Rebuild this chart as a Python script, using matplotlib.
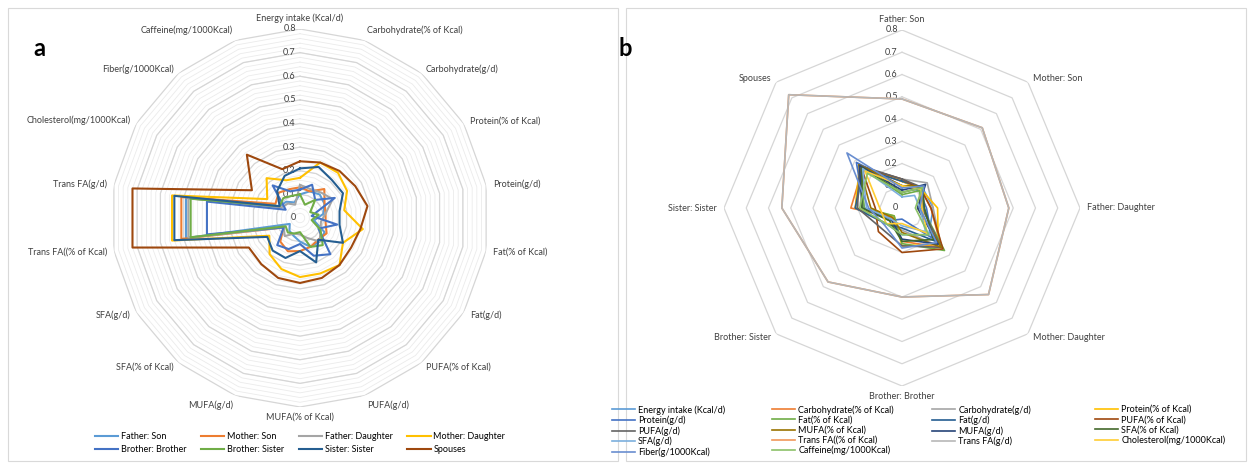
import numpy as np
import matplotlib
matplotlib.use("Agg")
import matplotlib.pyplot as plt
from matplotlib.patches import Rectangle

plt.rcParams['font.family'] = ['Lato', 'DejaVu Sans']

nutrients = ["Energy intake (Kcal/d)", "Carbohydrate(% of Kcal)", "Carbohydrate(g/d)",
             "Protein(% of Kcal)", "Protein(g/d)", "Fat(% of Kcal)", "Fat(g/d)",
             "PUFA(% of Kcal)", "PUFA(g/d)", "MUFA(% of Kcal)", "MUFA(g/d)",
             "SFA(% of Kcal)", "SFA(g/d)", "Trans FA((% of Kcal)", "Trans FA(g/d)",
             "Cholesterol(mg/1000Kcal)", "Fiber(g/1000Kcal)", "Caffeine(mg/1000Kcal)"]
pairs = ["Father: Son", "Mother: Son", "Father: Daughter", "Mother: Daughter",
         "Brother: Brother", "Brother: Sister", "Sister: Sister", "Spouses"]

# one list per relationship pair, values in nutrient order
father_son = [0.10, 0.12, 0.13, 0.12, 0.10, 0.06, 0.12, 0.13, 0.13, 0.10, 0.08, 0.07, 0.05, 0.49, 0.49, 0.10, 0.09, 0.07]
mother_son = [0.13, 0.12, 0.16, 0.12, 0.11, 0.11, 0.13, 0.12, 0.13, 0.14, 0.15, 0.13, 0.08, 0.51, 0.51, 0.12, 0.14, 0.13]
father_daughter = [0.14, 0.13, 0.14, 0.16, 0.11, 0.09, 0.10, 0.13, 0.09, 0.07, 0.07, 0.10, 0.08, 0.48, 0.48, 0.09, 0.08, 0.06]
mother_daughter = [0.17, 0.25, 0.25, 0.23, 0.19, 0.27, 0.21, 0.26, 0.25, 0.25, 0.23, 0.20, 0.15, 0.55, 0.55, 0.16, 0.22, 0.17]
brother_brother = [0.12, 0.15, 0.10, 0.17, 0.05, 0.16, 0.09, 0.20, 0.17, 0.11, 0.14, 0.15, 0.08, 0.40, 0.40, 0.07, 0.18, 0.12]
brother_sister = [0.10, 0.06, 0.10, 0.05, 0.08, 0.05, 0.10, 0.15, 0.13, 0.06, 0.07, 0.08, 0.07, 0.47, 0.47, 0.10, 0.11, 0.10]
sister_sister = [0.21, 0.23, 0.21, 0.21, 0.17, 0.17, 0.21, 0.12, 0.20, 0.14, 0.18, 0.18, 0.16, 0.54, 0.54, 0.10, 0.15, 0.19]
spouses = [0.24, 0.25, 0.26, 0.27, 0.29, 0.26, 0.25, 0.26, 0.27, 0.275, 0.27, 0.255, 0.25, 0.72, 0.72, 0.235, 0.35, 0.22]

pair_values = [father_son, mother_son, father_daughter, mother_daughter,
               brother_brother, brother_sister, sister_sister, spouses]
data = np.array(pair_values)  # shape (8 pairs, 18 nutrients)

pair_colors = ["#5B9BD5", "#ED7D31", "#A5A5A5", "#FFC000", "#4472C4", "#70AD47", "#255E91", "#9E480E"]
nutrient_colors = ["#5B9BD5", "#ED7D31", "#A5A5A5", "#FFC000", "#4472C4", "#70AD47",
                   "#255E91", "#9E480E", "#636363", "#997300", "#264478", "#43682B",
                   "#7CAFDD", "#F1975A", "#B7B7B7", "#FFCD33", "#698ED0", "#8CC168"]

rmax = 0.8
major = np.round(np.arange(0, 0.81, 0.1), 2)


def radar(ax, labels, series, colors, minor_step=None, lw=1.5):
    n = len(labels)
    theta = np.arange(n) * 2 * np.pi / n
    tc = np.append(theta, theta[0])
    ax.set_theta_zero_location("N")
    ax.set_theta_direction(-1)
    ax.set_ylim(0, rmax)
    ax.grid(False)
    ax.spines['polar'].set_visible(False)
    ax.set_xticks([])
    ax.set_yticks([])
    ax.patch.set_alpha(0)
    if minor_step:
        for r in np.arange(minor_step, rmax, minor_step):
            ax.plot(tc, np.full(n + 1, r), color="#EBEBEB", lw=0.6, zorder=1)
    for r in major[1:]:
        ax.plot(tc, np.full(n + 1, r), color="#D6D6D6", lw=0.9, zorder=1)
    for r in major:
        ax.annotate(f"{r:g}", xy=(0, r), xytext=(-3, 0), textcoords="offset points",
                    ha="right", va="center", fontsize=6.5, color="#404040")
    lines = []
    for vals, c in zip(series, colors):
        v = np.append(vals, vals[0])
        ln, = ax.plot(tc, v, color=c, lw=lw, zorder=3)
        lines.append(ln)
    for t, lab in zip(theta, labels):
        s, co = np.sin(t), np.cos(t)
        ha = "left" if s > 0.1 else ("right" if s < -0.1 else "center")
        va = "bottom" if co > 0.9 else ("top" if co < -0.9 else "center")
        ax.annotate(lab, xy=(t, rmax), xytext=(5 * s, 4 * co),
                    textcoords="offset points", ha=ha, va=va, fontsize=6.5, color="#404040",
                    annotation_clip=False)
    return lines


W, H = 1249, 463
fig = plt.figure(figsize=(W / 100, H / 100), dpi=100)

# panel frames
for x0, x1 in [(8, 618), (626, 1246)]:
    fig.patches.append(Rectangle((x0 / W, 2 / H), (x1 - x0) / W, (H - 10) / H,
                                 transform=fig.transFigure, fill=False,
                                 edgecolor="#D9D9D9", lw=0.8))


def polar_rect(cx, cy, r):
    return [(cx - r) / W, 1 - (cy + r) / H, 2 * r / W, 2 * r / H]


axa = fig.add_axes(polar_rect(300, 218, 189), projection="polar")
la = radar(axa, nutrients, data, pair_colors, minor_step=0.02, lw=1.5)

axb = fig.add_axes(polar_rect(902, 208, 178), projection="polar")
lb = radar(axb, pairs, data.T, nutrient_colors, lw=1.2)

fig.text(33 / W, 1 - 48 / H, "a", fontsize=17, fontweight="bold", va="center", ha="left")
fig.text(618 / W, 1 - 48 / H, "b", fontsize=17, fontweight="bold", va="center", ha="left")

# legend a: two rows of four, filled row by row
order_a = [i for c in range(4) for i in range(c, len(pairs), 4)]
fig.legend([la[i] for i in order_a], [pairs[i] for i in order_a], ncol=4, loc="center",
           bbox_to_anchor=(300 / W, 1 - 443 / H), frameon=False, fontsize=6.5,
           handlelength=2.6, columnspacing=1.6, labelspacing=0.5, handletextpad=0.3)

# legend b: four fixed-width columns, filled row by row
col_x = [612, 772, 932, 1095]
for c, x in enumerate(col_x):
    idx = list(range(c, len(nutrients), 4))
    fig.legend([lb[i] for i in idx], [nutrients[i] for i in idx], loc="upper left",
               bbox_to_anchor=(x / W, 1 - 405 / H), frameon=False, fontsize=6.5,
               handlelength=2.6, labelspacing=0.12, handletextpad=0.3,
               borderaxespad=0, borderpad=0)

fig.savefig("out.png", dpi=100)
